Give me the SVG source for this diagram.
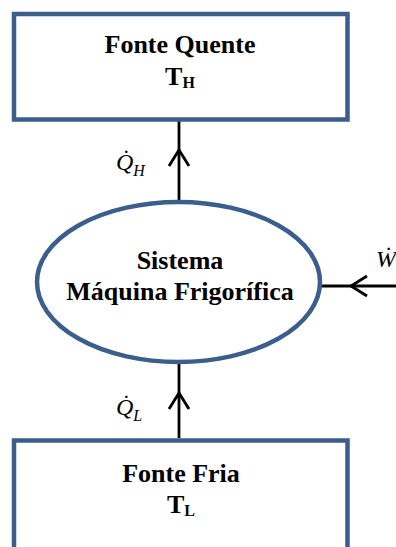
<svg xmlns="http://www.w3.org/2000/svg" width="396" height="547" viewBox="0 0 396 547">
<style>
.box{fill:#fff;stroke:#3B5E8C;stroke-width:4.5}
.lbl{font-family:"Liberation Serif","Times New Roman",serif;font-weight:bold;font-size:26px;fill:#000;text-anchor:middle}
.sub{font-size:16px}
.math{font-family:"Liberation Serif","DejaVu Serif",serif;font-style:italic;font-size:24px;fill:#000}
.msub{font-size:16px}
.conn{stroke:#000;stroke-width:2.8;fill:none}
</style>
<g id="connectors">
<line class="conn" x1="179" y1="200" x2="179" y2="120"/>
<polyline class="conn" points="169,166 179,150 189,166"/>
<line class="conn" x1="179" y1="438" x2="179" y2="364"/>
<polyline class="conn" points="169,409 179,393 189,409"/>
<line class="conn" x1="320" y1="286" x2="396" y2="286"/>
<polyline class="conn" points="367,276 351,286 367,296"/>
</g>
<g id="fonte-quente">
<rect class="box" x="14" y="14" width="333.5" height="105.5"/>
<text class="lbl" x="180" y="53">Fonte Quente</text>
<text class="lbl" x="180" y="85">T<tspan class="sub" dy="3">H</tspan></text>
</g>
<g id="sistema">
<ellipse class="box" cx="178.5" cy="282" rx="141.5" ry="80"/>
<text class="lbl" x="180" y="269">Sistema</text>
<text class="lbl" x="180" y="300">Máquina Frigorífica</text>
</g>
<g id="fonte-fria">
<rect class="box" x="14" y="440.5" width="333.5" height="120"/>
<text class="lbl" x="181" y="482">Fonte Fria</text>
<text class="lbl" x="181" y="513">T<tspan class="sub" dy="3">L</tspan></text>
</g>
<g id="labels">
<text class="math" x="116" y="170">Q&#x307;<tspan class="msub" dy="6">H</tspan></text>
<text class="math" x="116" y="415">Q&#x307;<tspan class="msub" dy="6">L</tspan></text>
<text class="math" x="376" y="267" font-size="26">W&#x307;</text>
</g>
</svg>
